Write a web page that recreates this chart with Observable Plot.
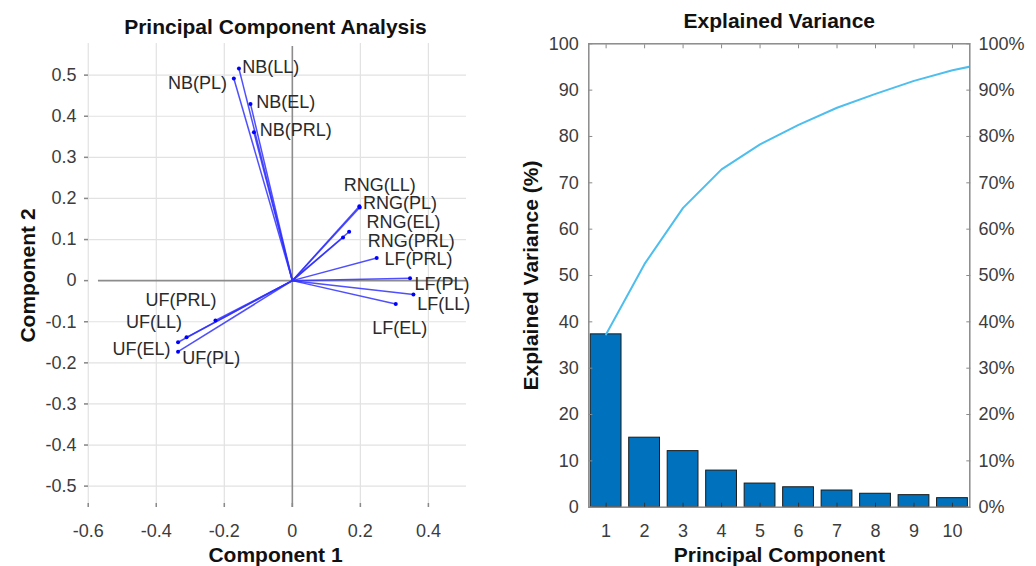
<!DOCTYPE html>
<html><head><meta charset="utf-8">
<script src="https://cdn.jsdelivr.net/npm/d3@7"></script>
<script src="https://cdn.jsdelivr.net/npm/@observablehq/plot@0.6"></script>
<style>
html,body{margin:0;padding:0;background:#fff;}
#wrap{position:relative;width:1036px;height:566px;overflow:hidden;}
#wrap svg{position:absolute;top:0;overflow:visible;}
</style></head><body><div id="wrap"></div>
<script>
// ---- PCA biplot data ----
const varNames = ["NB(LL)","NB(PL)","NB(EL)","NB(PRL)","RNG(LL)","RNG(PL)","RNG(EL)","RNG(PRL)","LF(PRL)","LF(PL)","LF(LL)","LF(EL)","UF(PRL)","UF(LL)","UF(EL)","UF(PL)"];
const comp1 = [-0.157,-0.172,-0.123,-0.113,0.197,0.198,0.167,0.149,0.248,0.346,0.356,0.304,-0.226,-0.311,-0.336,-0.336];
const comp2 = [0.516,0.492,0.430,0.361,0.181,0.178,0.119,0.105,0.055,0.006,-0.034,-0.057,-0.097,-0.138,-0.150,-0.173];
const labelX = [-0.147,-0.192,-0.106,-0.096,0.151,0.208,0.218,0.222,0.271,0.359,0.367,0.235,-0.327,-0.324,-0.358,-0.324];
const labelY = [0.519,0.481,0.434,0.365,0.233,0.189,0.143,0.096,0.053,-0.009,-0.058,-0.117,-0.047,-0.101,-0.166,-0.188];
const labelAnchor = ["start","end","start","start","start","start","start","start","start","start","start","start","middle","end","end","start"];
const biplotAxisLen = 0.57;
const xTicksL = [-0.6,-0.4,-0.2,0,0.2,0.4];
const yTicksL = [0.5,0.4,0.3,0.2,0.1,0,-0.1,-0.2,-0.3,-0.4,-0.5];

// ---- Explained variance data ----
const pcs = [1,2,3,4,5,6,7,8,9,10];
const explained = [37.3,15.0,12.1,7.9,5.1,4.3,3.6,2.9,2.6,1.95];
const cumPcs = [1,2,3,4,5,6,7,8,9,10,11];
const cumExplained = [37.3,52.5,64.6,72.9,78.3,82.5,86.2,89.2,92.0,94.3,96.0];
const yTicksR = [0,10,20,30,40,50,60,70,80,90,100];

const FONT = '"Liberation Sans", Arial, Helvetica, sans-serif';
const AXC = "#8a8a8a", TXC = "#3c3c3c";

const vecs = varNames.map((n,i)=>({name:n, x:comp1[i], y:comp2[i], lx:labelX[i], ly:labelY[i], a:labelAnchor[i]}));
const fmt1 = d => d === 0 ? "0" : d.toFixed(1);
const labelMarks = ["start","end","middle"].map(a =>
  Plot.text(vecs.filter(d=>d.a===a), {x:"lx", y:"ly", text:"name", textAnchor:a, lineAnchor:"middle", fontSize:18, fill:"#2a2a2a"}));

const left = Plot.plot({
  width: 500, height: 566,
  marginLeft: 84, marginRight: 34, marginTop: 43, marginBottom: 59,
  style: {fontFamily: FONT, background: "transparent", overflow: "visible"},
  x: {domain: [-0.611, 0.512]},
  y: {domain: [-0.552, 0.577]},
  marks: [
    Plot.gridX(xTicksL.filter(d=>d!==0), {stroke:"#e2e2e2", strokeOpacity:1, strokeWidth:1.2}),
    Plot.gridY(yTicksL.filter(d=>d!==0), {stroke:"#e2e2e2", strokeOpacity:1, strokeWidth:1.2}),
    Plot.ruleY([0], {x1: -biplotAxisLen, x2: biplotAxisLen, stroke:"#8c8c8c", strokeWidth:1.6, clip:true}),
    Plot.ruleX([0], {y1: -biplotAxisLen, y2: biplotAxisLen, stroke:"#8c8c8c", strokeWidth:1.6, clip:true}),
    Plot.link(vecs, {x1: ()=>0, y1: ()=>0, x2:"x", y2:"y", stroke:"#3030ff", strokeWidth:1.5, strokeOpacity:0.85}),
    Plot.dot(vecs, {x:"x", y:"y", r:2, fill:"#0000ff"}),
    ...labelMarks,
    Plot.axisX(xTicksL, {anchor:"bottom", tickSize:-4, tickPadding:20.6, tickFormat:fmt1, fontSize:18, stroke:AXC, fill:TXC, line:true, strokeWidth:1.5, label:null}),
    Plot.axisY(yTicksL, {anchor:"left", tickSize:-4, tickPadding:12, tickFormat:fmt1, fontSize:18, stroke:AXC, fill:TXC, line:true, strokeWidth:1.5, label:null}),
    Plot.text(["Principal Component Analysis"], {frameAnchor:"top", lineAnchor:"middle", textAnchor:"middle", dy:-16.7, text:d=>d, fontSize:21, fontWeight:"bold", fill:"#111"}),
    Plot.text(["Component 1"], {frameAnchor:"bottom", lineAnchor:"middle", textAnchor:"middle", dy:47.5, text:d=>d, fontSize:21, fontWeight:"bold", fill:"#111"}),
    Plot.text(["Component 2"], {frameAnchor:"left", lineAnchor:"middle", textAnchor:"middle", dx:-56, rotate:-90, text:d=>d, fontSize:21, fontWeight:"bold", fill:"#111"})
  ]
});

const bars = pcs.map((p,i)=>({pc:p, v:explained[i]}));
const cum = cumPcs.map((p,i)=>({pc:p, v:cumExplained[i]}));

const right = Plot.plot({
  width: 536, height: 566,
  marginLeft: 88.3, marginRight: 66.7, marginTop: 43.3, marginBottom: 59.3,
  style: {fontFamily: FONT, background: "transparent", overflow: "visible"},
  x: {type:"linear", domain: [0.55, 10.45]},
  y: {domain: [0, 100]},
  marks: [
    Plot.rectY(bars, {x1: d=>d.pc-0.4, x2: d=>d.pc+0.4, y1: 0, y2:"v", fill:"#0072BD", stroke:"#1a1a1a", strokeWidth:1}),
    Plot.lineY(cum, {x:"pc", y:"v", stroke:"#4DBEEE", strokeWidth:2, clip:true}),
    Plot.frame({stroke:AXC, strokeWidth:1.5}),
    Plot.axisX(pcs, {anchor:"bottom", tickSize:-4, tickPadding:20.9, tickFormat:d=>String(d), fontSize:18, stroke:"#333", fill:TXC, label:null}),
    Plot.axisX(pcs, {anchor:"top", tickSize:-4, tickFormat:()=>"", stroke:AXC, label:null}),
    Plot.axisY(yTicksR, {anchor:"left", tickSize:-4, tickPadding:14, tickFormat:d=>String(d), fontSize:18, stroke:AXC, fill:TXC, label:null}),
    Plot.axisY(yTicksR, {anchor:"right", tickSize:-4, tickPadding:12.7, tickFormat:d=>d+"%", fontSize:18, stroke:AXC, fill:TXC, label:null}),
    Plot.text(["Explained Variance"], {frameAnchor:"top", lineAnchor:"middle", textAnchor:"middle", dy:-22.5, text:d=>d, fontSize:21, fontWeight:"bold", fill:"#111"}),
    Plot.text(["Principal Component"], {frameAnchor:"bottom", lineAnchor:"middle", textAnchor:"middle", dy:47.8, text:d=>d, fontSize:21, fontWeight:"bold", fill:"#111"}),
    Plot.text(["Explained Variance (%)"], {frameAnchor:"left", lineAnchor:"middle", textAnchor:"middle", dx:-58, rotate:-90, text:d=>d, fontSize:21, fontWeight:"bold", fill:"#111"})
  ]
});

left.style.left = "0px";
right.style.left = "500px";
document.getElementById("wrap").append(left, right);
</script>
</body></html>
